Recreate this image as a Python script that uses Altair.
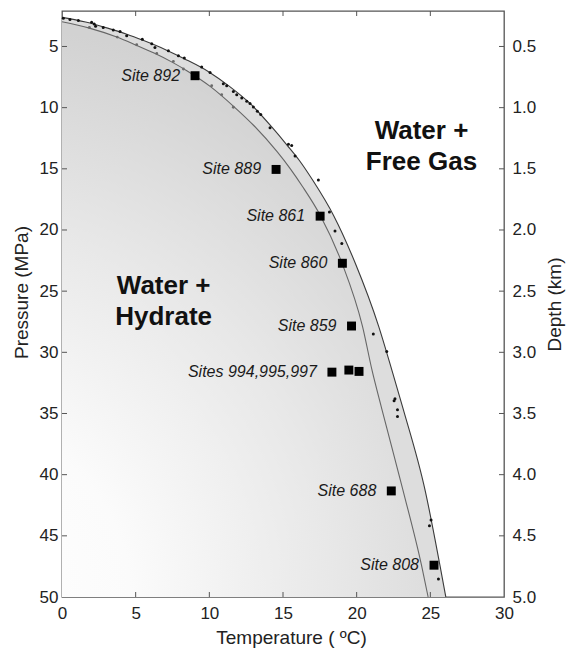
import altair as alt
import pandas as pd

# ---------------- data ----------------
outer_P = [2.62, 3.0, 3.5, 4.0, 4.5, 5.3, 6.0, 7.1, 8.2, 9.7, 11.6, 13.1, 14.3, 15.9,
           18.85, 22.7, 27.9, 31.5, 34.6, 41.3, 47.4, 50.0]
outer_T = [0.0, 1.6, 3.1, 4.4, 5.5, 7.1, 8.3, 10.0, 11.3, 12.8, 14.25, 15.3, 16.1, 17.0,
           18.45, 19.9, 21.5, 22.4, 23.15, 24.65, 25.65, 26.05]

inner_P = [2.98, 3.5, 4.23, 4.92, 5.54, 6.3, 7.0, 8.3, 9.95, 11.5, 13.6, 15.0, 16.4,
           18.85, 22.7, 27.9, 31.5, 34.6, 41.3, 47.4, 50.0]
inner_T = [0.0, 1.86, 3.72, 5.07, 6.25, 7.5, 8.5, 10.1, 11.7, 13.05, 14.6, 15.5, 16.3,
           17.55, 19.0, 20.4, 21.05, 21.7, 23.15, 24.4, 24.85]

dots_T = [0.09, 0.54, 1.11, 2.01, 2.19, 2.28, 2.8, 3.48, 3.94, 4.39, 5.45, 6.09, 6.31,
          7.22, 7.9, 8.3, 9.48, 10.05, 10.95, 11.18, 11.63, 11.86, 12.2, 12.54, 12.76,
          12.99, 13.26, 13.49, 14.12, 15.37, 15.59, 15.82, 17.4, 18.15, 18.53, 18.99,
          21.13, 22.04, 22.6, 22.54, 22.77, 22.77, 25.05, 24.94, 25.55]
dots_P = [2.69, 2.8, 2.88, 3.01, 3.17, 3.34, 3.45, 3.66, 3.78, 4.13, 4.4, 4.78, 5.08,
          5.35, 5.76, 5.95, 6.68, 7.12, 8.04, 8.2, 8.67, 8.94, 9.21, 9.48, 9.67,
          9.94, 10.3, 10.57, 11.65, 13.0, 13.09, 13.96, 15.92, 18.53, 20.08, 21.1,
          28.5, 29.94, 33.8, 33.96, 34.7, 35.24, 43.71, 44.17, 48.52]

gdots_T = [1.86, 3.75, 5.07, 6.43, 7.56, 8.24, 10.16, 10.84, 11.63]
gdots_P = [3.45, 4.23, 4.86, 5.57, 6.22, 6.84, 8.2, 8.94, 9.97]

site_names = ["Site 892", "Site 889", "Site 861", "Site 860", "Site 859",
              "Sites 994,995,997", "", "", "Site 688", "Site 808"]
site_T = [9.03, 14.53, 17.52, 19.03, 19.65, 18.32, 19.47, 20.16, 22.35, 25.25]
site_P = [7.39, 15.05, 18.87, 22.72, 27.85, 31.62, 31.45, 31.56, 41.33, 47.4]

region_text = ["Water +\nHydrate", "Water +\nFree Gas"]
region_T = [6.9, 24.4]
region_P = [24.6, 11.9]

x_ticks = [0, 5, 10, 15, 20, 25, 30]
p_ticks = [5, 10, 15, 20, 25, 30, 35, 40, 45, 50]

W, H = 442, 586
FONT = "Liberation Sans"
AX = "#555555"

xs = alt.Scale(domain=[0, 30], nice=False, zero=False)
ys = alt.Scale(domain=[2.1, 50], reverse=True, nice=False, zero=False)

outer = pd.DataFrame({"T": outer_T, "P": outer_P})
inner = pd.DataFrame({"T": inner_T, "P": inner_P})
dots = pd.DataFrame({"T": dots_T, "P": dots_P})
gdots = pd.DataFrame({"T": gdots_T, "P": gdots_P})
sites = pd.DataFrame({"T": site_T, "P": site_P, "name": site_names})
regions = pd.DataFrame({"T": region_T, "P": region_P, "txt": region_text})
xt = pd.DataFrame({"T": x_ticks[1:-1]})
pt = pd.DataFrame({"P": p_ticks[:-1]})

common = dict(domain=False, ticks=False, grid=False, labelFont=FONT, labelFontSize=17,
              labelColor="#222", labelFlush=False, labelOverlap=False,
              titleFont=FONT, titleFontSize=19, titleFontWeight="normal",
              titleColor="#222")
x_axis = alt.Axis(values=x_ticks, title="Temperature ( ºC)", orient="bottom",
                  labelPadding=8, titlePadding=7, titleX=229, **common)
y_axis = alt.Axis(values=p_ticks, title="Pressure (MPa)", orient="left",
                  labelPadding=4, titlePadding=8, titleY=281, **common)
y_axis_r = alt.Axis(values=p_ticks, title="Depth (km)", orient="right",
                    labelPadding=8, titlePadding=10, titleAngle=270,
                    titleBaseline="top",
                    labelExpr="format(datum.value / 10, '.1f')", **common)

X = alt.X("T:Q", scale=xs, axis=None)
Y = alt.Y("P:Q", scale=ys, axis=None)

band = alt.Chart(outer).mark_area(orient="horizontal", color="#dddddd",
                                  interpolate="monotone").encode(
    x=X, x2=alt.datum(0), y=Y,
)

grad = alt.RadialGradient(
    gradient="radial",
    stops=[alt.GradientStop(offset=0, color="#ffffff"),
           alt.GradientStop(offset=0.3, color="#fbfbfb"),
           alt.GradientStop(offset=0.65, color="#e8e8e8"),
           alt.GradientStop(offset=1, color="#d2d2d2")],
    x1=0, y1=1, r1=0, x2=0, y2=1, r2=1,
)
inner_fill = alt.Chart(inner).mark_area(orient="horizontal", color=grad,
                                        interpolate="monotone").encode(
    x=X, x2=alt.datum(0), y=Y,
)

outer_line = alt.Chart(outer).mark_line(color="#3a3a3a", strokeWidth=1.1,
                                        interpolate="monotone").encode(
    x=X, y=Y, order=alt.Order("P:Q"),
)
inner_line = alt.Chart(inner).mark_line(color="#666666", strokeWidth=1.1,
                                        interpolate="monotone").encode(
    x=X, y=Y, order=alt.Order("P:Q"),
)

dot_layer = alt.Chart(dots).mark_circle(color="#111111", size=9, opacity=1).encode(x=X, y=Y)
gdot_layer = alt.Chart(gdots).mark_circle(color="#6a6a6a", size=8, opacity=1).encode(x=X, y=Y)

squares = alt.Chart(sites).mark_square(color="#000000", size=80, opacity=1).encode(x=X, y=Y)
site_labels = alt.Chart(sites).mark_text(
    align="right", baseline="middle", dx=-15, font=FONT, fontSize=16,
    fontStyle="italic", color="#1a1a1a").encode(x=X, y=Y, text="name:N")
region_labels = alt.Chart(regions).mark_text(
    align="center", baseline="middle", font=FONT, fontSize=26, fontWeight="bold",
    lineBreak="\n", lineHeight=31, color="#111111").encode(x=X, y=Y, text="txt:N")

TL = 5
bottom_ticks = alt.Chart(xt).mark_rule(color=AX, strokeWidth=1).encode(
    x=alt.X("T:Q", scale=xs, axis=x_axis), y=alt.value(H), y2=alt.value(H - TL))
top_ticks = alt.Chart(xt).mark_rule(color=AX, strokeWidth=1).encode(
    x=X, y=alt.value(0), y2=alt.value(TL))
left_ticks = alt.Chart(pt).mark_rule(color=AX, strokeWidth=1).encode(
    y=alt.Y("P:Q", scale=ys, axis=y_axis), x=alt.value(0), x2=alt.value(TL))
right_ticks = alt.Chart(pt).mark_rule(color=AX, strokeWidth=1).encode(
    y=alt.Y("P:Q", scale=ys, axis=y_axis_r), x=alt.value(W), x2=alt.value(W - TL))

chart = alt.layer(
    band, inner_fill, outer_line, inner_line, gdot_layer, dot_layer, squares,
    site_labels, region_labels, bottom_ticks, top_ticks, left_ticks, right_ticks,
).resolve_axis(x="independent", y="independent").properties(
    width=W, height=H,
    autosize=alt.AutoSizeParams(type="none"),
    padding={"left": 62, "top": 11, "right": 62, "bottom": 52},
    background="white",
).configure_view(stroke=AX, strokeWidth=1.3)

chart.save("out.html", embed_options={"renderer": "svg", "actions": False})
